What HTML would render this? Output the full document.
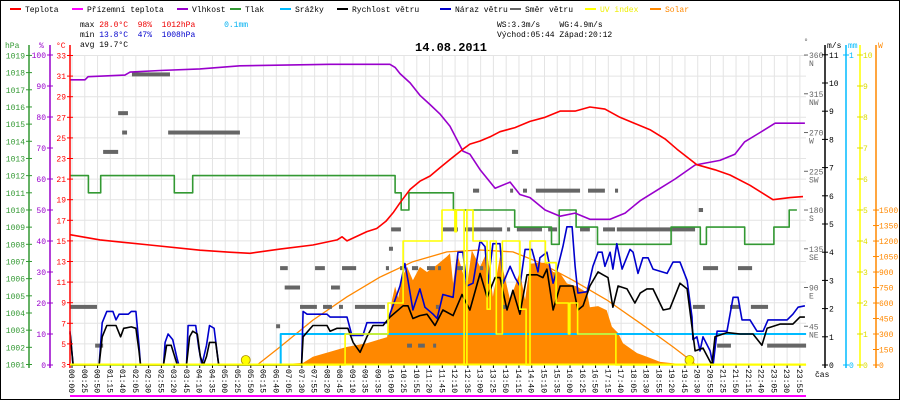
<!DOCTYPE html>
<html><head><meta charset="utf-8"><style>
html,body{margin:0;padding:0;background:#fff}
svg{display:block}
text{font-family:"Liberation Mono",monospace;font-size:8px}
</style></head><body>
<svg id="chart" width="900" height="400" viewBox="0 0 900 400" xmlns="http://www.w3.org/2000/svg">
<rect x="0.5" y="0.5" width="899" height="399" fill="#fff" stroke="#000"/>
<g id="grid"></g>
<g id="series"></g>
<g id="axes"></g>
<g id="legend"></g>
<g>
<text x="80" y="27" xml:space="preserve">max <tspan fill="#e00">28.0°C</tspan>  <tspan fill="#e00">98%</tspan>  <tspan fill="#e00">1012hPa</tspan>      <tspan fill="#00b0f0">0.1mm</tspan></text>
<text x="80" y="37" xml:space="preserve">min <tspan fill="#00c">13.8°C</tspan>  <tspan fill="#00c">47%</tspan>  <tspan fill="#00c">1008hPa</tspan></text>
<text x="80" y="47">avg 19.7°C</text>
<text x="497" y="27" xml:space="preserve">WS:3.3m/s    WG:4.9m/s</text>
<text x="497" y="37" xml:space="preserve">Východ:05:44 Západ:20:12</text>
<text x="415" y="51" style="font-size:12px;font-weight:bold">14.08.2011</text>
</g>
</svg>
<script>
// ---------- data ----------
const tempH=[0,0.98,2.6,4.24,5.2,5.87,6.85,7.92,8.71,8.87,9.03,9.68,10.0,10.3,10.55,10.76,11.09,11.41,11.74,12.06,12.39,12.81,13.04,13.37,13.69,14.02,14.51,15.0,15.49,15.98,16.47,16.95,17.44,17.93,18.42,18.91,19.4,19.79,20.44,21.03,21.52,22.17,22.92,23.48,23.9];
const tempV=[15.6,15.1,14.6,14.1,13.9,13.8,14.2,14.6,15.1,15.4,15.0,15.9,16.2,16.9,17.8,18.7,20.0,20.8,21.3,22.1,22.9,23.9,24.4,24.7,25.1,25.6,26.0,26.6,27.0,27.6,27.6,28.0,27.8,27.0,26.4,25.8,24.9,23.9,22.4,21.9,21.4,20.4,19.0,19.2,19.3];
const humH=[0,0.49,0.59,1.79,1.96,2.93,4.24,5.54,8.48,10.43,10.6,10.76,11.09,11.41,11.74,12.06,12.39,12.81,13.04,13.37,13.86,14.35,14.67,15.0,15.49,15.98,16.47,16.95,17.61,18.1,18.59,19.24,19.73,20.38,21.19,21.68,22.0,22.5,22.99,23.48,23.96];
const humV=[92,92,93,93.5,94.5,95,95.5,96.5,97,97,96,94,91,87,84,81,77,69,68,63,57,59,55,54,50,48,49,47,47,49,53,57,60,64.5,66,68,72,75,78,78,78];
const presH=[0,0.6,1.0,3.4,4.0,10.6,10.8,11.05,12.5,14.5,15.7,15.95,16.5,17.2,19.6,20.55,20.75,22.0,22.95,23.45,23.7];
const presV=[1012,1011,1012,1011,1012,1011,1010,1011,1010,1009,1008,1010,1009,1008,1009,1008,1009,1008,1009,1010,1010];
const rainH=[0,6.82,6.87,24];
const rainV=[0,0,0.1,0.1];
const gustH=[0,0.1,0.95,1.05,1.2,1.4,1.5,1.6,1.9,2.0,2.15,2.25,2.3,3.05,3.1,3.2,3.35,3.5,3.55,3.8,3.85,4.1,4.2,4.3,4.45,4.55,4.7,4.85,7.55,7.6,7.73,8.38,8.48,9.03,9.19,9.55,9.68,10.34,10.43,10.76,10.92,11.02,11.18,11.41,11.57,11.84,11.97,12.16,12.49,12.65,12.81,12.94,13.14,13.37,13.53,13.63,13.79,14.02,14.12,14.35,14.51,14.67,14.84,15.06,15.26,15.32,15.55,15.75,15.91,16.07,16.2,16.37,16.47,16.56,16.86,17.05,17.22,17.35,17.44,17.61,17.7,17.83,18.0,18.26,18.36,18.52,18.68,18.85,19.01,19.47,19.66,19.89,20.12,20.28,20.31,20.44,20.54,20.64,20.87,20.97,21.1,21.42,21.62,21.78,21.91,22.17,22.4,22.6,22.76,23.05,23.38,23.57,23.74,23.96];
const gustV=[1.2,0,0,1.5,1.9,1.9,1.6,1.8,1.8,1.9,1.9,0.7,0,0,0.8,1.1,0.9,0.2,0,0,1.4,1.4,0.6,0,0.7,1.4,1.3,0,0,1.9,1.8,1.8,1.7,1.7,1.05,1.05,1.5,1.5,1.8,2.8,3.6,3.0,1.95,2.7,2.05,1.8,1.65,2.5,2.4,4.0,4.0,2.8,2.9,4.4,4.2,2.9,4.3,4.3,2.9,3.5,3.1,2.8,4.1,4.1,3.3,3.8,4.0,2.9,3.5,4.2,4.9,4.9,3.5,2.55,2.6,3.5,4.0,4.0,3.5,4.0,3.4,4.3,3.4,4.1,4.0,3.25,3.8,3.8,3.4,3.25,3.65,3.65,3.0,1.7,0.9,1.0,0.5,1.0,0.5,0,1.2,1.2,2.4,2.4,1.6,1.6,1.2,1.2,1.6,1.6,1.6,1.8,2.05,2.1];
const windH=[0,0.1,0.95,1.05,1.2,1.5,1.65,1.75,2.0,2.15,2.25,2.3,3.05,3.15,3.3,3.5,3.8,3.9,4.0,4.15,4.25,4.35,4.45,4.55,4.75,4.85,7.55,7.6,7.92,8.38,8.48,8.71,9.06,9.23,9.46,9.68,9.88,10.21,10.43,10.86,11.02,11.18,11.41,11.64,11.9,12.16,12.49,12.78,13.04,13.37,13.6,13.86,14.02,14.25,14.44,14.67,14.9,15.23,15.42,15.55,15.75,15.98,16.2,16.4,16.56,16.73,16.95,17.22,17.38,17.54,17.7,17.87,18.16,18.42,18.59,18.81,19.01,19.34,19.56,19.89,20.12,20.28,20.38,20.64,20.93,21.03,21.42,21.85,22.27,22.56,22.73,23.15,23.57,23.8,23.96];
const windV=[1.15,0,0,1.0,1.4,1.4,1.0,1.3,1.35,1.3,0.5,0,0,0.7,0.7,0,0,1.0,1.2,1.1,0.3,0,0.3,0.8,0.8,0,0,1.0,1.4,1.4,1.2,1.3,1.3,0.8,0.45,1.0,1.4,1.4,1.7,2.1,2.1,1.65,1.75,1.8,1.4,1.95,1.75,2.5,1.95,3.25,2.4,3.1,3.1,1.95,2.65,1.8,3.2,3.2,3.1,3.4,1.95,2.8,2.8,2.8,1.95,2.1,2.8,3.3,3.2,3.1,2.05,2.8,2.7,2.2,2.55,2.7,2.7,1.95,2.0,2.9,2.7,1.35,0.5,0.6,0,1.0,1.15,1.1,1.1,0.7,1.3,1.45,1.45,1.7,1.7];
const uvH=[0,8.97,10.37,10.86,12.13,12.55,12.6,12.85,12.94,13.14,13.6,13.7,13.9,14.1,14.25,14.67,14.87,15.0,15.5,15.58,15.85,16.25,16.3,16.4,16.55,17.8,24];
const uvV=[0,1,2,4,5,4.3,5,0,5,4,1.8,4,1,4,4,1.8,0,4,3.3,3.3,2,1,2,2,1,0,0];
const solH=[0,6.2,6.6,7.0,7.6,7.92,9.03,9.68,10.34,10.5,10.6,10.7,10.83,10.99,11.18,11.41,11.64,11.97,12.29,12.39,12.49,12.62,12.94,13.1,13.37,13.6,13.79,14.02,14.35,14.67,14.84,15.0,15.32,15.55,15.75,15.98,16.2,16.53,16.86,16.95,17.22,17.5,17.67,17.87,18.03,18.49,18.81,19.24,19.89,19.99,24];
const solV=[0,0,5,10,20,80,175,210,270,630,760,650,850,950,820,950,900,970,1050,1080,790,1080,760,1110,950,1100,660,1050,630,900,630,980,990,990,900,890,790,760,700,560,570,530,370,310,210,115,80,30,10,0,0];
const clearH=[6.1,6.85,7.92,9.03,10.1,11.18,12.29,13.37,14.44,15.32,16.4,17.5,18.59,19.66,20.3,20.4];
const clearV=[0,175,435,660,850,1000,1095,1113,1095,990,820,630,405,175,30,0];
const dirStart=[0,0.82,1.08,1.7,1.57,2.02,3.2,6.72,7.0,6.85,7.5,7.99,8.25,8.51,8.77,8.87,9.29,10.3,10.4,10.47,10.76,10.99,11.15,11.35,11.64,11.84,11.93,12.0,12.16,12.62,12.88,13.14,13.37,14.12,14.25,14.35,14.41,14.57,14.77,15.19,15.59,16.63,16.89,17.38,17.77,17.83,20.31,20.5,20.64,21.1,21.52,21.78,22.2,22.73];
const dirEnd=[0.88,1.08,1.57,1.86,1.89,3.26,5.54,6.85,7.5,7.1,8.05,8.31,8.54,8.8,8.9,9.33,10.27,10.4,10.53,10.79,10.89,11.15,11.35,11.57,11.9,11.9,12.0,12.06,12.65,12.81,14.09,13.34,13.47,14.25,14.35,14.44,14.61,15.39,14.9,16.63,15.88,16.95,17.44,17.77,17.87,20.38,20.7,20.64,21.13,21.55,21.85,22.24,22.76,24];
const dirDeg=[67.5,22.5,247.5,270,292.5,337.5,270,45,90,112.5,67.5,112.5,67.5,90,67.5,112.5,67.5,112.5,135,157.5,112.5,22.5,112.5,22.5,112.5,22.5,67.5,112.5,157.5,112.5,157.5,202.5,112.5,67.5,157.5,202.5,247.5,157.5,202.5,202.5,157.5,157.5,202.5,157.5,202.5,157.5,67.5,180,112.5,22.5,67.5,112.5,67.5,22.5];
const sunEvents=[5.73,20.2];
const timeLabels=["00:00","00:25","00:50","01:15","01:40","02:05","02:30","02:55","03:20","03:45","04:10","04:35","05:00","05:25","05:50","06:15","06:40","07:05","07:30","07:55","08:20","08:45","09:10","09:35","09:35","10:00","10:25","10:55","11:20","11:45","12:10","12:35","13:00","13:25","13:50","14:15","14:40","15:10","15:35","16:00","16:25","16:50","17:15","17:40","18:05","18:30","18:55","19:20","19:45","20:30","20:55","21:25","21:50","22:15","22:40","23:05","23:30","23:55"];
const hpaTicks=[1001,1002,1003,1004,1005,1006,1007,1008,1009,1010,1011,1012,1013,1014,1015,1016,1017,1018,1019];
const pctTicks=[0,10,20,30,40,50,60,70,80,90,100];
const tempTicks=[3,5,7,9,11,13,15,17,19,21,23,25,27,29,31,33];
const degTicks=[45,90,135,180,225,270,315,360];
const degNames=["NE","E","SE","S","SW","W","NW","N"];
const msTicks=[0,1,2,3,4,5,6,7,8,9,10,11];
const uvTicks=[0,1,2,3,4,5,6,7,8,9,10];
const wTicks=[0,150,300,450,600,750,900,1050,1200,1350,1500];
const legendNames=["Teplota","Přízemní teplota","Vlhkost","Tlak","Srážky","Rychlost větru","Náraz větru","Směr větru","UV index","Solar"];
const legendColors=["#f00","#f0f","#90c","#393","#0bf","#000","#00c","#666","#ff0","#f80"];

// ---------- scales ----------
const X=h=>70+h*30.67;
const yT=c=>364.5-(c-3)*10.3;
const yH=p=>365-p*3.1;
const yP=v=>364.5-(v-1001)*17.17;
const yWs=v=>365-v*28.2;
const yDeg=d=>365-d*0.861;
const yMM=m=>365-m*310;
const yUV=u=>365-u*31;
const ySol=w=>365-w*0.1033;
const NS="http://www.w3.org/2000/svg";
function mk(tag,attrs,parent){const e=document.createElementNS(NS,tag);for(const k in attrs)e.setAttribute(k,attrs[k]);parent.appendChild(e);return e;}
const grid=document.getElementById('grid'),ser=document.getElementById('series'),axes=document.getElementById('axes'),leg=document.getElementById('legend');
const lblX=i=>72+i*12.77;

tempTicks.forEach(t=>{const l=mk('line',{x1:70,x2:806,y1:yT(t),y2:yT(t),stroke:'#e4e4e4'},grid);

});
timeLabels.forEach((s,i)=>{const l=mk('line',{x1:lblX(i),x2:lblX(i),y1:55,y2:365,stroke:'#e4e4e4'},grid);

});

function pts(H,V,fy){return H.map((h,i)=>X(h).toFixed(1)+','+fy(V[i]).toFixed(1)).join(' ');}
function stepPts(H,V,fy){let a=[];H.forEach((h,i)=>{if(i>0)a.push(X(h).toFixed(1)+','+fy(V[i-1]).toFixed(1));a.push(X(h).toFixed(1)+','+fy(V[i]).toFixed(1));});return a.join(' ');}
function line(p,color,w,name){const e=mk('polyline',{points:p,fill:'none',stroke:color,'stroke-width':w,'stroke-linejoin':'round'},ser);

return e;}

const sf=mk('polygon',{points:X(solH[0])+',365 '+pts(solH,solV,ySol)+' '+X(solH[solH.length-1])+',365',fill:'#f80'},ser);


line(pts(clearH,clearV,ySol),'#f80',1.3,'solar-clear-sky-line');
line(stepPts(rainH,rainV,yMM),'#0bf',2,'rain-line');
dirDeg.forEach((d,i)=>{const r=mk('rect',{x:X(dirStart[i]),y:yDeg(d)-2,width:Math.max(3,X(dirEnd[i])-X(dirStart[i])),height:4,fill:'#666'},ser);

});
line(stepPts(presH,presV,yP),'#393',1.6,'pressure-line');
line(pts(humH,humV,yH),'#90c',1.6,'humidity-line');
line(pts(tempH,tempV,yT),'#f00',1.6,'temperature-line');
line(pts(gustH,gustV,yWs),'#00c',1.6,'wind-gust-line');
line(pts(windH,windV,yWs),'#000',1.6,'wind-speed-line');
line(stepPts(uvH,uvV,yUV),'#ff0',1.6,'uv-index-line');
sunEvents.forEach(h=>{const c=mk('circle',{cx:X(h),cy:360,r:4.5,fill:'#ff0',stroke:'#a80','stroke-width':0.8},ser);

});
const bl=mk('line',{x1:70,x2:806,y1:396,y2:396,stroke:'#f0f','stroke-width':2},ser);



function ax(x,y1,y2,color,name){const l=mk('line',{x1:x,x2:x,y1:y1,y2:y2,stroke:color,'stroke-width':1.5},axes);

}
function tx(x,y,s,color,anchor,name){const t=mk('text',{x:x,y:y,fill:color,'text-anchor':anchor||'start'},axes);t.textContent=s;

return t;}
ax(29,45,368,'#393','pressure-axis');ax(50,45,368,'#90c','humidity-axis');ax(70,45,368,'#f00','temperature-axis');
ax(825,45,368,'#000','wind-speed-axis');ax(846,45,368,'#0bf','rain-axis');ax(860,45,368,'#ff0','uv-axis');ax(876,45,368,'#f80','solar-axis');
tx(5,48,'hPa','#393','start','pressure-unit');tx(39,48,'%','#90c','start','humidity-unit');tx(56,48,'°C','#f00','start','temperature-unit');
tx(806,44,'°','#666','middle','direction-unit');tx(827,48,'m/s','#000','start','wind-unit');tx(848,48,'mm','#0bf','start','rain-unit');tx(878,48,'W','#f80','start','solar-unit');
hpaTicks.forEach(v=>{const y=yP(v);mk('line',{x1:26,x2:32,y1:y,y2:y,stroke:'#393'},axes);tx(25,y+3,String(v),'#393','end','pressure-tick-label');});
pctTicks.forEach(v=>{const y=yH(v);mk('line',{x1:47,x2:53,y1:y,y2:y,stroke:'#90c'},axes);tx(46,y+3,String(v),'#90c','end','humidity-tick-label');});
tempTicks.forEach(v=>{const y=yT(v);mk('line',{x1:67,x2:73,y1:y,y2:y,stroke:'#f00'},axes);tx(66,y+3,String(v),'#f00','end','temperature-tick-label');});
degTicks.forEach((v,i)=>{const y=yDeg(v);mk('line',{x1:804,x2:808,y1:y,y2:y,stroke:'#666'},axes);tx(809,y+3,String(v),'#666','start','direction-tick-label');tx(809,y+11,degNames[i],'#666','start','direction-name');});
msTicks.forEach(v=>{const y=yWs(v);mk('line',{x1:822,x2:828,y1:y,y2:y,stroke:'#000'},axes);tx(829,y+3,String(v),'#000','start','wind-tick-label');});
[0,1].forEach(v=>{const y=yMM(v);mk('line',{x1:843,x2:849,y1:y,y2:y,stroke:'#0bf'},axes);tx(849,y+3,String(v),'#0bf','start','rain-tick-label');});
uvTicks.forEach(v=>{const y=yUV(v);mk('line',{x1:857,x2:863,y1:y,y2:y,stroke:'#dd0'},axes);tx(863,y+3,String(v),'#dd0','start','uv-tick-label');});
wTicks.forEach(v=>{const y=ySol(v);mk('line',{x1:873,x2:879,y1:y,y2:y,stroke:'#f80'},axes);tx(879,y+3,String(v),'#f80','start','solar-tick-label');});
timeLabels.forEach((s,i)=>{const x=lblX(i);mk('line',{x1:x,x2:x,y1:365,y2:368,stroke:'#000'},axes);
const t=mk('text',{x:0,y:0,transform:'translate('+(x-3)+',369) rotate(90)',fill:'#000','font-size':'8'},axes);t.textContent=s;

});
tx(815,377,'čas','#000','start','x-axis-title');
const bx=mk('line',{x1:70,x2:806,y1:364.5,y2:364.5,stroke:'#ff0','stroke-width':2},axes);



const legX=[10,72,177,230,280,337,440,510,585,650];
legendNames.forEach((n,i)=>{const g=mk('g',{},leg);


mk('line',{x1:legX[i],x2:legX[i]+11,y1:9,y2:9,stroke:legendColors[i],'stroke-width':2},g);
const t=mk('text',{x:legX[i]+15,y:12,fill:(i===8?'#ee0':(i===9?'#f80':'#000'))},g);t.textContent=n;});
</script>
</body></html>
